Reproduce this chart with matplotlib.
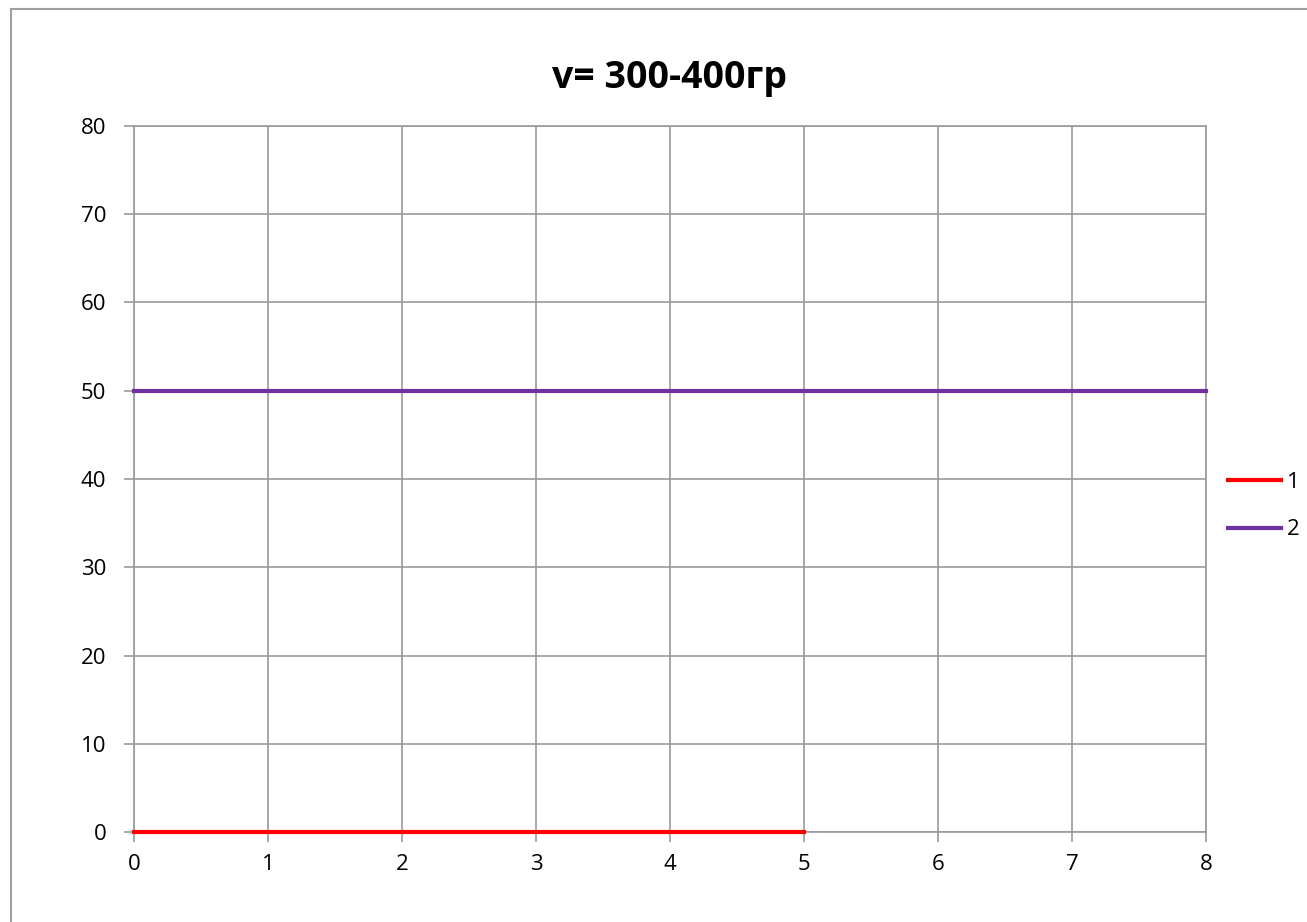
import matplotlib.pyplot as plt
from matplotlib.patches import Rectangle

# series data
x1 = [0, 1, 2, 3, 4, 5]
y1 = [0, 0, 0, 0, 0, 0]
x2 = [0, 1, 2, 3, 4, 5, 6, 7, 8]
y2 = [50, 50, 50, 50, 50, 50, 50, 50, 50]
labels = ['1', '2']
title = 'v= 300-400гр'

plt.rcParams['font.family'] = ['Open Sans', 'DejaVu Sans']

fig = plt.figure(figsize=(13.07, 9.22), dpi=100)
ax = fig.add_axes([134 / 1307, 90 / 922, 1072 / 1307, 706 / 922])

grid_c = '#9a9a9a'
ax.plot(x1, y1, color='#ff0000', lw=3, label=labels[0], clip_on=False, zorder=3)
ax.plot(x2, y2, color='#7030a0', lw=3, label=labels[1], clip_on=False, zorder=3)

ax.set_xlim(0, 8)
ax.set_ylim(0, 80)
ax.set_xticks(range(0, 9))
ax.set_yticks(range(0, 81, 10))
ax.grid(True, color=grid_c, lw=1.2)
for s in ax.spines.values():
    s.set_color(grid_c)
    s.set_linewidth(1.2)
ax.tick_params(length=7, width=1.2, color=grid_c, labelsize=16, pad=9)
ax.tick_params(axis='y', pad=13)

ax.set_title(title, fontsize=27, fontweight='bold', pad=27)

fig.legend(loc='center left', bbox_to_anchor=(1219 / 1307, 1 - 506 / 922),
           frameon=False, fontsize=16, handlelength=2.4, handletextpad=0.25,
           labelspacing=1.2, borderaxespad=0)

# outer chart border
fig.patches.append(Rectangle((11 / 1307, -0.1), 1.2, 1 - 9 / 922 + 0.1,
                             transform=fig.transFigure, fill=False,
                             edgecolor='#a0a0a0', lw=1.5))

fig.savefig('out.png', dpi=100)
